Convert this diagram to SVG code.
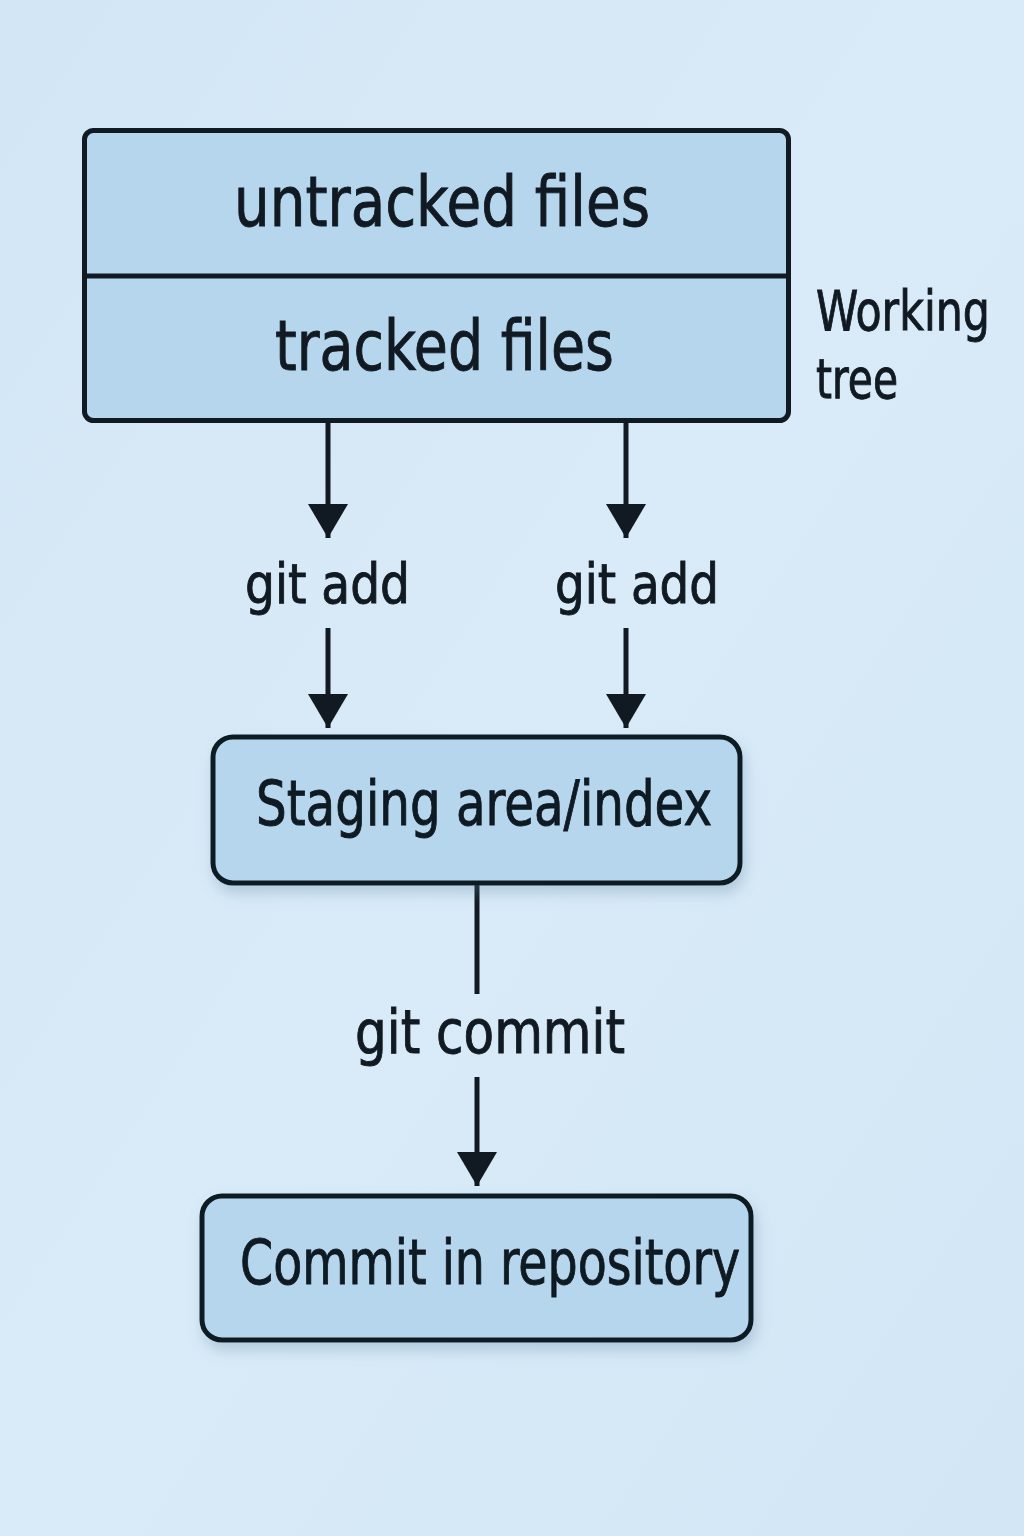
<svg xmlns="http://www.w3.org/2000/svg" width="1024" height="1536" viewBox="0 0 1024 1536">
<defs>
<linearGradient id="bg" x1="0" y1="0" x2="1" y2="1">
<stop offset="0" stop-color="#d3e6f5"/>
<stop offset="0.5" stop-color="#d9ebf8"/>
<stop offset="1" stop-color="#d2e6f5"/>
</linearGradient>
<filter id="sh" x="-10%" y="-20%" width="120%" height="150%">
<feGaussianBlur in="SourceAlpha" stdDeviation="7"/>
<feOffset dx="3" dy="8" result="b"/>
<feFlood flood-color="#5a7f9e" flood-opacity="0.3"/>
<feComposite in2="b" operator="in"/>
<feMerge><feMergeNode/><feMergeNode in="SourceGraphic"/></feMerge>
</filter>
<marker id="ah" viewBox="0 0 34 40" refX="34" refY="20" markerWidth="34" markerHeight="40" markerUnits="userSpaceOnUse" orient="auto">
<path d="M0,0 L34,20 L0,40 Z" fill="#111a22"/>
</marker>
<style>
.box{fill:#b6d6ee;stroke:#111a22;stroke-width:5}
.ln{stroke:#111a22;stroke-width:5;fill:none}
.t{font-family:"DejaVu Sans Condensed","DejaVu Sans","Open Sans",sans-serif;font-stretch:condensed;fill:#111a22;stroke:#111a22;stroke-width:0.9;text-anchor:start}
</style>
</defs>
<rect width="1024" height="1536" fill="url(#bg)"/>

<g id="working-tree">
<rect class="box" x="84.5" y="130.5" width="704" height="290" rx="9"/>
<line class="ln" x1="84.5" y1="276" x2="788.5" y2="276"/>
<text class="t" x="234" y="226" font-size="70" textLength="416" lengthAdjust="spacingAndGlyphs">untracked files</text>
<text class="t" x="275" y="370" font-size="70" textLength="339" lengthAdjust="spacingAndGlyphs">tracked files</text>
</g>
<g id="working-tree-label">
<text class="t" x="816" y="330" font-size="56" textLength="174" lengthAdjust="spacingAndGlyphs">Working</text>
<text class="t" x="816" y="398" font-size="56" textLength="82" lengthAdjust="spacingAndGlyphs">tree</text>
</g>

<g id="connectors">
<line class="ln" x1="328" y1="421" x2="328" y2="538" marker-end="url(#ah)"/>
<line class="ln" x1="626" y1="421" x2="626" y2="538" marker-end="url(#ah)"/>
<line class="ln" x1="328" y1="628" x2="328" y2="728" marker-end="url(#ah)"/>
<line class="ln" x1="626" y1="628" x2="626" y2="728" marker-end="url(#ah)"/>
<line class="ln" x1="477" y1="884" x2="477" y2="994"/>
<line class="ln" x1="477" y1="1077" x2="477" y2="1186" marker-end="url(#ah)"/>
<text class="t" x="245" y="603" font-size="56" textLength="165" lengthAdjust="spacingAndGlyphs">git add</text>
<text class="t" x="555" y="603" font-size="56" textLength="164" lengthAdjust="spacingAndGlyphs">git add</text>
<text class="t" x="355" y="1053" font-size="60" textLength="270" lengthAdjust="spacingAndGlyphs">git commit</text>
</g>

<g id="staging" filter="url(#sh)">
<rect class="box" x="213" y="737" width="527" height="146" rx="20"/>
<text class="t" x="256" y="825" font-size="62" textLength="456" lengthAdjust="spacingAndGlyphs">Staging area/index</text>
</g>

<g id="commit" filter="url(#sh)">
<rect class="box" x="202" y="1196" width="549" height="144" rx="20"/>
<text class="t" x="240" y="1284" font-size="63" textLength="500" lengthAdjust="spacingAndGlyphs">Commit in repository</text>
</g>
</svg>
